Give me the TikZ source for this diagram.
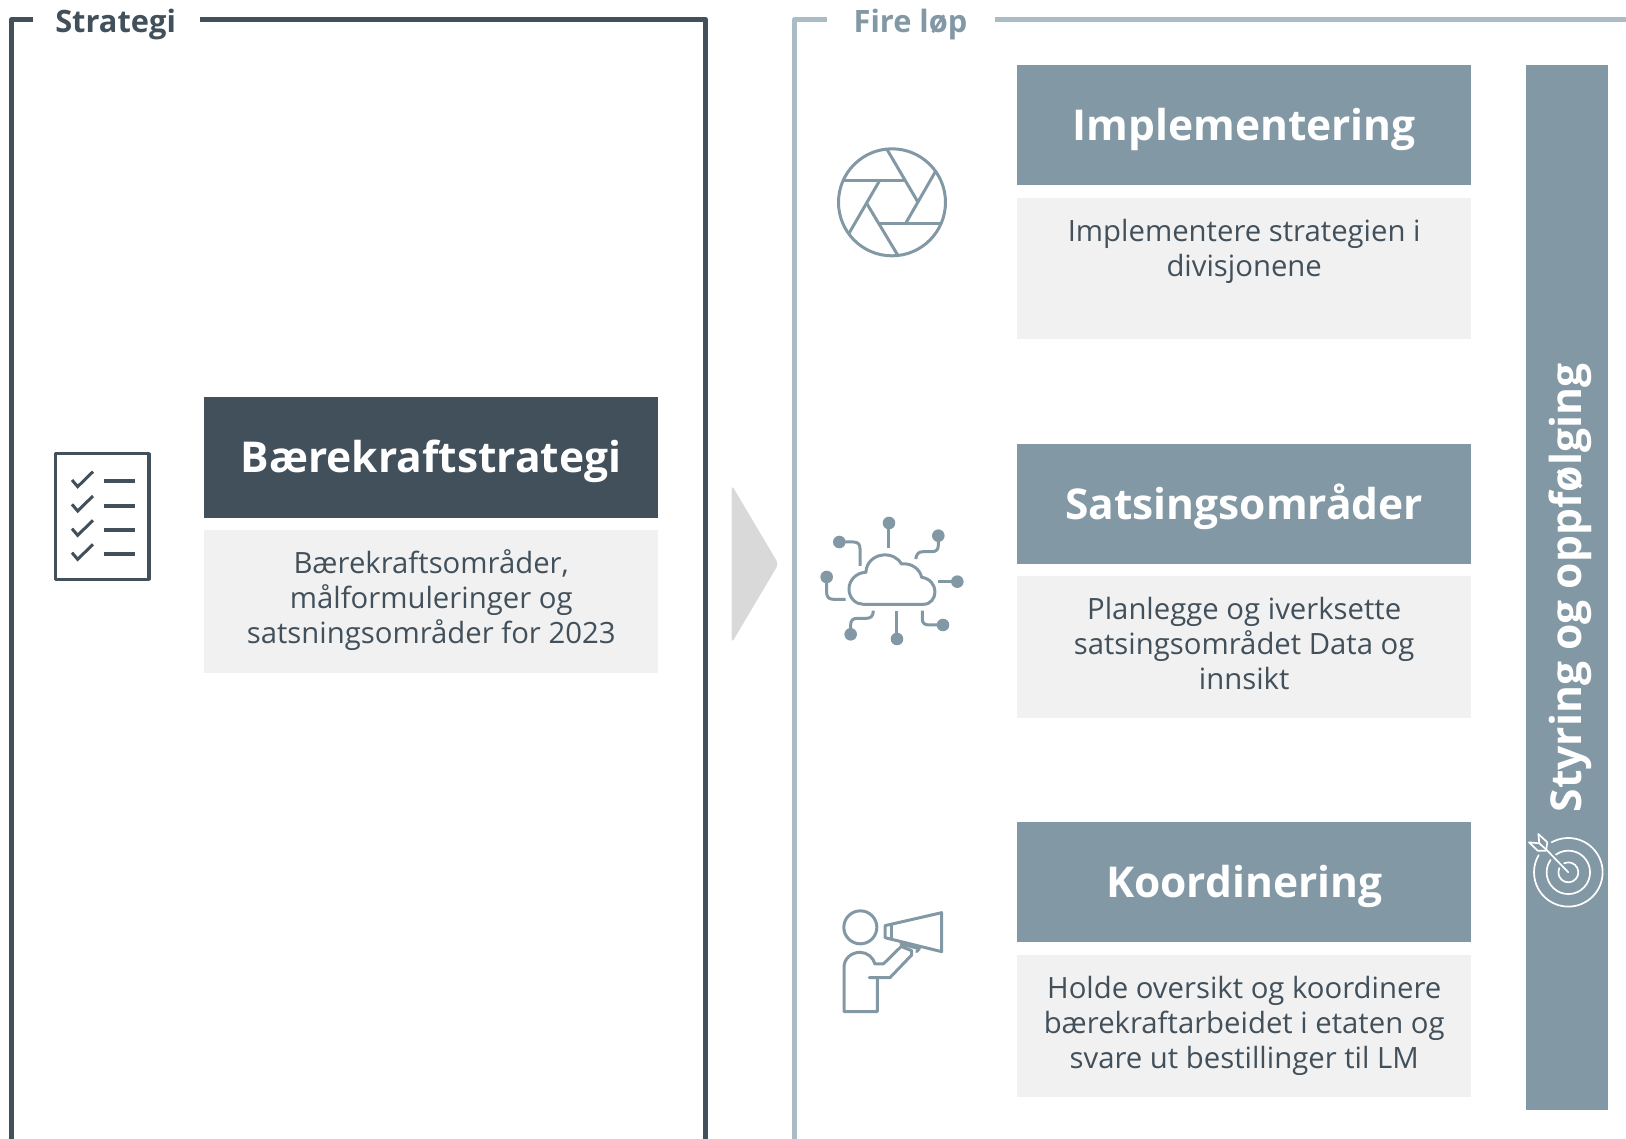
\documentclass[tikz,border=0pt]{standalone}
\usepackage{fontspec}
\setmainfont{Open Sans}
\definecolor{dark}{HTML}{41505B}
\definecolor{mid}{HTML}{8298A5}
\definecolor{lite}{HTML}{ABBCC6}
\definecolor{pale}{HTML}{F1F1F1}
\definecolor{arrowgrey}{HTML}{D9D9D9}
\tikzset{
  x=1pt,y=-1pt,
  framedark/.style={draw=dark,line width=4.5pt,line join=round},
  framelite/.style={draw=lite,line width=4.5pt,line join=round},
  headbox/.style={fill=mid,minimum width=454.5pt,minimum height=120pt,text=white,inner sep=0pt},
  headtext/.style={text=white,font=\fontsize{42.5}{50}\selectfont\bfseries,inner sep=0pt},
  bodybox/.style={fill=pale,minimum width=454.5pt,inner sep=0pt},
  bodytext/.style={text=dark,align=center,font=\fontsize{29.3}{35}\selectfont,inner sep=0pt},
  frametitle/.style={font=\fontsize{30.8}{38}\selectfont\bfseries,inner sep=0pt},
  iconline/.style={draw=mid,line width=3pt,line cap=round,line join=round},
  iconlinedark/.style={draw=dark,line width=3.5pt,line join=round},
  whiteline/.style={draw=white,line width=1.7pt,line cap=round,line join=round},
}
\begin{document}
\begin{tikzpicture}
\useasboundingbox (0,0) rectangle (1626,1139);
% frames
\draw[framedark] (11.7,1139) -- (11.7,19.3) -- (33,19.3);
\draw[framedark] (200,19.3) -- (705.5,19.3) -- (705.5,1139);
\draw[framelite] (794.5,1139) -- (794.5,19.3) -- (826.7,19.3);
\draw[framelite] (995,19.3) -- (1626,19.3);
\node[frametitle,text=dark] (strategi) at (115.6,25) {Strategi};
\node[frametitle,text=mid] (fire) at (910.5,25) {Fire løp};
% left boxes
\node[headbox,fill=dark] (baere) at (431.2,457.5) {};
\node[headtext] (baerehead) at (431.2,461.5) {Bærekraftstrategi};
\node[bodybox,minimum height=142.3pt] (baerebody) at (431.2,601.5) {};
\node[bodytext] (baeretext) at (431.2,600.5) {Bærekraftsområder,\\målformuleringer og\\satsningsområder for 2023};
% grey arrow
\fill[arrowgrey,rounded corners=4pt] (731.7,485) -- (778.5,564) -- (731.7,643) -- cycle;
% right boxes
\node[headbox] (impl) at (1244.2,125) {};
\node[headtext] (implhead) at (1244.2,129) {Implementering};
\node[bodybox,minimum height=141pt] (implbody) at (1244.2,268.5) {};
\node[bodytext] (impltext) at (1244.2,251) {Implementere strategien i\\divisjonene};
\node[headbox] (sats) at (1244.2,503.7) {};
\node[headtext] (satshead) at (1244.2,506.7) {Satsingsområder};
\node[bodybox,minimum height=142pt] (satsbody) at (1244.2,647.3) {};
\node[bodytext] (satstext) at (1244.2,644) {Planlegge og iverksette\\satsingsområdet Data og\\innsikt};
\node[headbox] (koord) at (1244.2,882) {};
\node[headtext] (koordhead) at (1244.2,886.5) {Koordinering};
\node[bodybox,minimum height=142pt] (koordbody) at (1244.2,1026) {};
\node[bodytext] (koordtext) at (1244.2,1025.5) {Holde oversikt og koordinere\\bærekraftarbeidet i etaten og\\svare ut bestillinger til LM};
% side bar
\node[fill=mid,minimum width=82pt,minimum height=1045pt,inner sep=0pt] (bar) at (1567,587.5) {};
\node[rotate=90,text=white,font=\fontsize{42.6}{50}\selectfont\bfseries,inner sep=0pt] (bartext) at (1570,588) {Styring og oppfølging};
% checklist icon
\begin{scope}[shift={(0,380)},x=0.3333pt,y=-0.3333pt]
\draw[iconlinedark] (167,221) rectangle (447,598);
\foreach \yy in {0,73,146,218}{
  \draw[draw=dark,line width=3pt] (216,\yy+300) -- (233,\yy+320) -- (279,\yy+275);
}
\foreach \yy in {303,377,450,521}{
  \draw[draw=dark,line width=4pt] (312,\yy) -- (405,\yy);
}
\end{scope}
% aperture icon
\begin{scope}[shift={(800,120)},x=0.3333pt,y=-0.3333pt]
\draw[iconline] (276,247) circle[radius=53.5pt];
\draw[iconline] (262,90) -- (353,245);
\draw[iconline] (405,157) -- (316,312);
\draw[iconline] (420,312) -- (240,312);
\draw[iconline] (293,405) -- (200,250);
\draw[iconline] (147,340) -- (237,185);
\draw[iconline] (132,182) -- (310,182);
\end{scope}
% cloud icon
\begin{scope}[shift={(800,490)},x=0.3333pt,y=-0.3333pt]
\draw[iconline] (190,343) -- (370,343)
  .. controls (392,343) and (405,325) .. (405,305)
  .. controls (405,285) and (390,265) .. (365,262)
  .. controls (360,238) and (335,218) .. (305,222)
  .. controls (295,205) and (275,193) .. (250,195)
  .. controls (220,197) and (198,220) .. (198,247)
  .. controls (170,247) and (147,270) .. (147,297)
  .. controls (147,325) and (168,343) .. (190,343) -- cycle;
\draw[iconline,line cap=butt] (267,175) -- (267,100);
\draw[iconline,line cap=butt] (347,207) .. controls (350,192) and (355,185) .. (370,185) -- (395,185) .. controls (410,185) and (415,178) .. (415,165) -- (415,137);
\draw[iconline,line cap=butt] (415,275) -- (472,275);
\draw[iconline,line cap=butt] (367,362) -- (367,388) .. controls (367,400) and (375,405) .. (388,405) -- (429,405);
\draw[iconline,line cap=butt] (291,362) -- (291,447);
\draw[iconline,line cap=butt] (220,362) .. controls (220,378) and (212,385) .. (200,385) -- (172,385) .. controls (158,385) and (152,392) .. (152,405) -- (152,433);
\draw[iconline,line cap=butt] (137,328) -- (100,328) .. controls (86,328) and (80,320) .. (80,308) -- (80,261);
\draw[iconline,line cap=butt] (118,156) -- (160,156) .. controls (174,156) and (180,163) .. (180,176) -- (180,228);
\foreach \cx/\cy in {267/99,415/137,472/275,429/405,291/447,152/433,80/261,118/156}{
  \fill[mid] (\cx,\cy) circle[radius=6.3pt];
}
\end{scope}
% megaphone icon
\begin{scope}[shift={(820,890)},x=0.3333pt,y=-0.3333pt]
\draw[iconline] (121,112) circle[radius=16.5pt];
\draw[iconline] (195,107) -- (365,68) -- (365,185) -- (195,143) -- cycle;
\draw[iconline] (215,105) -- (215,147);
\draw[iconline] (243,162) -- (298,176) -- (290,185);
\draw[iconline] (243,162) -- (250,172) -- (275,182) -- (275,195) -- (210,263) -- (148,263);
\draw[iconline] (172,263) -- (172,365) -- (72,365) -- (72,232)
  .. controls (72,205) and (95,187) .. (120,187)
  .. controls (142,187) and (160,203) .. (165,222) -- (190,222) -- (243,170);
\end{scope}
% target icon
\begin{scope}[shift={(1510,810)},x=0.3333pt,y=-0.3333pt]
\draw[whiteline] (175,187) ++(119:103*0.3333pt) arc[start angle=119,end angle=-210,radius=34.3pt];
\draw[whiteline] (175,187) ++(125:65*0.3333pt) arc[start angle=125,end angle=-215,radius=21.7pt];
\draw[whiteline] (175,187) ++(115:30*0.3333pt) arc[start angle=115,end angle=-205,radius=10pt];
\draw[whiteline] (175,187) -- (110,120);
\draw[whiteline] (85,72) -- (112,97) -- (108,122) -- (83,122) -- (57,97) -- (88,100) -- (85,72) -- cycle;
\draw[whiteline] (88,100) -- (110,120);
\end{scope}
\end{tikzpicture}
\end{document}
